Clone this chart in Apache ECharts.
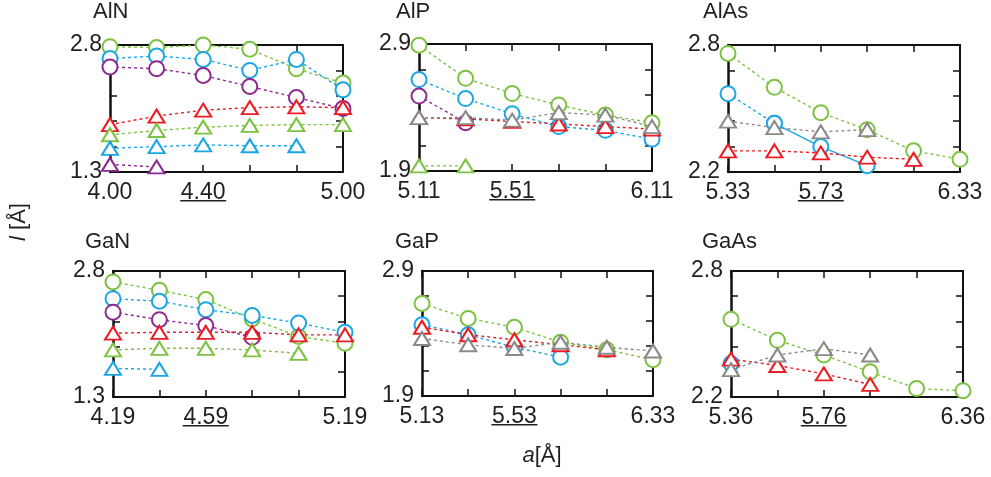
<!DOCTYPE html>
<html>
<head>
<meta charset="utf-8">
<script src="https://cdn.jsdelivr.net/npm/echarts@6/dist/echarts.min.js"></script>
<style>
  html, body { margin: 0; padding: 0; background: #fff; }
  #chart { width: 991px; height: 477px; }
</style>
</head>
<body>
<div id="chart"></div>
<script>
// ---- lattice constants a [Å] at the six strain steps of each compound ----
const aAlN  = ['4.00', '4.20', '4.40', '4.60', '4.80', '5.00'];
const aAlP  = ['5.11', '5.31', '5.51', '5.71', '5.91', '6.11'];
const aAlAs = ['5.33', '5.53', '5.73', '5.93', '6.13', '6.33'];
const aGaN  = ['4.19', '4.39', '4.59', '4.79', '4.99', '5.19'];
const aGaP  = ['5.13', '5.33', '5.53', '5.73', '5.93', '6.33'];
const aGaAs = ['5.36', '5.56', '5.76', '5.96', '6.16', '6.36'];

// steps that carry a tick label, and the one that is underlined
const labelledSteps = [0, 2, 5];
const underlinedStep = 2;

// ---- bond-length ranges l [Å] (min, max) and tick step ----
const lAlN  = [1.3, 2.8, 0.3];
const lAlP  = [1.9, 2.9, 0.2];
const lAlAs = [2.2, 2.8, 0.12];
const lGaN  = [1.3, 2.8, 0.3];
const lGaP  = [1.9, 2.9, 0.2];
const lGaAs = [2.2, 2.8, 0.12];

// ---- bond lengths l [Å] ----
// AlN
const AlN_circGreen = [2.78, 2.77, 2.80, 2.75, 2.52, 2.35];
const AlN_circBlue  = [2.64, 2.67, 2.63, 2.50, 2.63, 2.27];
const AlN_circPurp  = [2.54, 2.52, 2.44, 2.31, 2.18, 2.05];
const AlN_triRed    = [1.86, 1.96, 2.03, 2.06, 2.07, 2.06];
const AlN_triGreen  = [1.74, 1.79, 1.83, 1.85, 1.86, 1.86];
const AlN_triBlue   = [1.58, 1.60, 1.62, 1.61, 1.61];
const AlN_triPurp   = [1.39, 1.36];
// AlP
const AlP_circGreen = [2.89, 2.63, 2.51, 2.42, 2.34, 2.28];
const AlP_circBlue  = [2.62, 2.47, 2.35, 2.25, 2.22, 2.15];
const AlP_circPurp  = [2.49, 2.28];
const AlP_triRed    = [2.32, 2.31, 2.29, 2.27, 2.25, 2.23];
const AlP_triGreen  = [1.94, 1.94];
const AlP_triGray   = [2.32, 2.32, 2.30, 2.36, 2.34, 2.25];
// AlAs
const AlAs_circGreen = [2.76, 2.60, 2.48, 2.40, 2.30, 2.26];
const AlAs_circBlue  = [2.57, 2.43, 2.32, 2.23];
const AlAs_triRed    = [2.30, 2.30, 2.29, 2.27, 2.26];
const AlAs_triGray   = [2.44, 2.41, 2.39, 2.40];
// GaN
const GaN_circGreen = [2.67, 2.57, 2.46, 2.23, 2.02, 1.94];
const GaN_circBlue  = [2.47, 2.44, 2.34, 2.27, 2.18, 2.07];
const GaN_circPurp  = [2.31, 2.22, 2.15, 2.01];
const GaN_triRed    = [2.06, 2.07, 2.07, 2.07, 2.04, 2.04];
const GaN_triGreen  = [1.86, 1.88, 1.88, 1.86, 1.82];
const GaN_triBlue   = [1.64, 1.63];
// GaP
const GaP_circGreen = [2.64, 2.52, 2.45, 2.33, 2.27, 2.19];
const GaP_circBlue  = [2.47, 2.39, 2.29, 2.21];
const GaP_triRed    = [2.45, 2.39, 2.35, 2.31, 2.27];
const GaP_triGray   = [2.36, 2.31, 2.28, 2.33, 2.29, 2.26];
// GaAs
const GaAs_circGreen = [2.57, 2.47, 2.40, 2.32, 2.24, 2.23];
const GaAs_circBlue  = [2.36];
const GaAs_triRed    = [2.38, 2.35, 2.31, 2.26];
const GaAs_triGray   = [2.33, 2.40, 2.43, 2.40];

// ---- styling ----
const FONT = 'Liberation Sans, Arial, Helvetica, sans-serif';
const INK = '#231f20';
const C = {
  green: '#7dc242',
  blue: '#1ca6e4',
  purple: '#8e2a8f',
  red: '#ec1c24',
  gray: '#8a8a8a'
};

const panels = [
  { name: 'AlN',  a: aAlN,  l: lAlN,  box: [110, 45, 233, 127], title: [93, 1],
    lines: [
      ['circle', C.green, AlN_circGreen], ['circle', C.blue, AlN_circBlue], ['circle', C.purple, AlN_circPurp],
      ['triangle', C.red, AlN_triRed], ['triangle', C.green, AlN_triGreen],
      ['triangle', C.blue, AlN_triBlue], ['triangle', C.purple, AlN_triPurp]
    ] },
  { name: 'AlP',  a: aAlP,  l: lAlP,  box: [419, 44, 233, 127], title: [396, 1],
    lines: [
      ['circle', C.green, AlP_circGreen], ['circle', C.blue, AlP_circBlue], ['circle', C.purple, AlP_circPurp],
      ['triangle', C.red, AlP_triRed], ['triangle', C.green, AlP_triGreen], ['triangle', C.gray, AlP_triGray]
    ] },
  { name: 'AlAs', a: aAlAs, l: lAlAs, box: [728, 45, 232, 127], title: [703, 1],
    lines: [
      ['circle', C.green, AlAs_circGreen], ['circle', C.blue, AlAs_circBlue, 1],
      ['triangle', C.red, AlAs_triRed], ['triangle', C.gray, AlAs_triGray]
    ] },
  { name: 'GaN',  a: aGaN,  l: lGaN,  box: [113, 271, 232, 126], title: [85, 231],
    lines: [
      ['circle', C.green, GaN_circGreen], ['circle', C.blue, GaN_circBlue], ['circle', C.purple, GaN_circPurp],
      ['triangle', C.red, GaN_triRed], ['triangle', C.green, GaN_triGreen], ['triangle', C.blue, GaN_triBlue]
    ] },
  { name: 'GaP',  a: aGaP,  l: lGaP,  box: [422, 271, 231, 125], title: [395, 231],
    lines: [
      ['circle', C.green, GaP_circGreen], ['circle', C.blue, GaP_circBlue],
      ['triangle', C.red, GaP_triRed], ['triangle', C.gray, GaP_triGray]
    ] },
  { name: 'GaAs', a: aGaAs, l: lGaAs, box: [731, 271, 232, 126], title: [702, 231],
    lines: [
      ['circle', C.green, GaAs_circGreen], ['circle', C.blue, GaAs_circBlue],
      ['triangle', C.red, GaAs_triRed], ['triangle', C.gray, GaAs_triGray]
    ] }
];

const frameLine = { show: true, lineStyle: { color: '#111', width: 2 } };
const innerTick = { show: true, inside: true, length: 7, lineStyle: { color: '#111', width: 1.5 } };

const grid = [], xAxis = [], yAxis = [], series = [], title = [];

panels.forEach((p, i) => {
  const [left, top, width, height] = p.box;
  grid.push({ left, top, width, height, containLabel: false });
  title.push({
    text: p.name, left: p.title[0], top: p.title[1], padding: 0,
    textStyle: { fontFamily: FONT, fontSize: 22, fontWeight: 'normal', color: INK }
  });

  // bottom axis carries the labels, top axis only the inner ticks
  xAxis.push({
    type: 'category', gridIndex: i, data: p.a, boundaryGap: false, position: 'bottom',
    axisLine: { show: true, lineStyle: { color: '#111', width: 2 } },
    axisTick: Object.assign({ interval: 0 }, innerTick),
    splitLine: { show: false },
    axisLabel: {
      interval: (idx) => labelledSteps.includes(idx),
      margin: 13, fontFamily: FONT, fontSize: 23, color: INK, lineHeight: 15,
      formatter: (v, idx) => idx === underlinedStep ? '{v|' + v + '}\n{ul|}' : v,
      rich: {
        v: { fontFamily: FONT, fontSize: 23, color: INK, lineHeight: 15 },
        ul: { width: 46, height: 1.5, lineHeight: 1.5, backgroundColor: INK }
      }
    }
  });
  xAxis.push({
    type: 'category', gridIndex: i, data: p.a, boundaryGap: false, position: 'top',
    axisLine: frameLine, axisTick: Object.assign({ interval: 0 }, innerTick),
    axisLabel: { show: false }, splitLine: { show: false }
  });

  const [lmin, lmax, step] = p.l;
  yAxis.push({
    type: 'value', gridIndex: i, min: lmin, max: lmax, interval: step, position: 'left',
    axisLine: { show: true, lineStyle: { color: '#111', width: 2.5 } },
    axisTick: innerTick, splitLine: { show: false },
    axisLabel: {
      margin: 8, fontFamily: FONT, fontSize: 23, color: INK,
      showMinLabel: true, showMaxLabel: true,
      formatter: (v) => (Math.abs(v - lmin) < 1e-6 || Math.abs(v - lmax) < 1e-6) ? v.toFixed(1) : ''
    }
  });
  yAxis.push({
    type: 'value', gridIndex: i, min: lmin, max: lmax, interval: step, position: 'right',
    axisLine: frameLine, axisTick: innerTick,
    axisLabel: { show: false }, splitLine: { show: false }
  });

  p.lines.forEach(([shape, color, data, solidFrom], k) => {
    const base = {
      type: 'line', xAxisIndex: 2 * i, yAxisIndex: 2 * i,
      symbol: shape === 'circle' ? 'emptyCircle' : 'emptyTriangle',
      symbolSize: shape === 'circle' ? 15 : [16, 13],
      itemStyle: { color, borderWidth: 1.4 },
      z: 2 + k, silent: true, animation: false, connectNulls: false
    };
    if (solidFrom === undefined) {
      series.push(Object.assign({}, base, {
        data, lineStyle: { color, width: 1.4, type: [3, 3] }
      }));
    } else {
      // dashed up to step solidFrom, solid beyond it
      series.push(Object.assign({}, base, {
        data: data.slice(0, solidFrom + 1),
        lineStyle: { color, width: 1.4, type: [3, 3] }
      }));
      series.push(Object.assign({}, base, {
        data: data.map((v, j) => j >= solidFrom ? v : null),
        lineStyle: { color, width: 1.4, type: 'solid' }
      }));
    }
  });
});

const chart = echarts.init(document.getElementById('chart'), null, { renderer: 'canvas' });
chart.setOption({
  backgroundColor: '#fff',
  animation: false,
  title, grid, xAxis, yAxis, series,
  graphic: [
    {
      type: 'text', x: 19, y: 222, rotation: Math.PI / 2,
      style: {
        text: '{i|l} [Å]', fontFamily: FONT, fontSize: 22, fill: INK,
        align: 'center', verticalAlign: 'middle',
        rich: { i: { fontStyle: 'italic', fontFamily: FONT, fontSize: 22, fill: INK } }
      }
    },
    {
      type: 'text', x: 542, y: 456,
      style: {
        text: '{i|a}[Å]', fontFamily: FONT, fontSize: 22, fill: INK,
        align: 'center', verticalAlign: 'middle',
        rich: { i: { fontStyle: 'italic', fontFamily: FONT, fontSize: 22, fill: INK } }
      }
    }
  ]
});
</script>
</body>
</html>
